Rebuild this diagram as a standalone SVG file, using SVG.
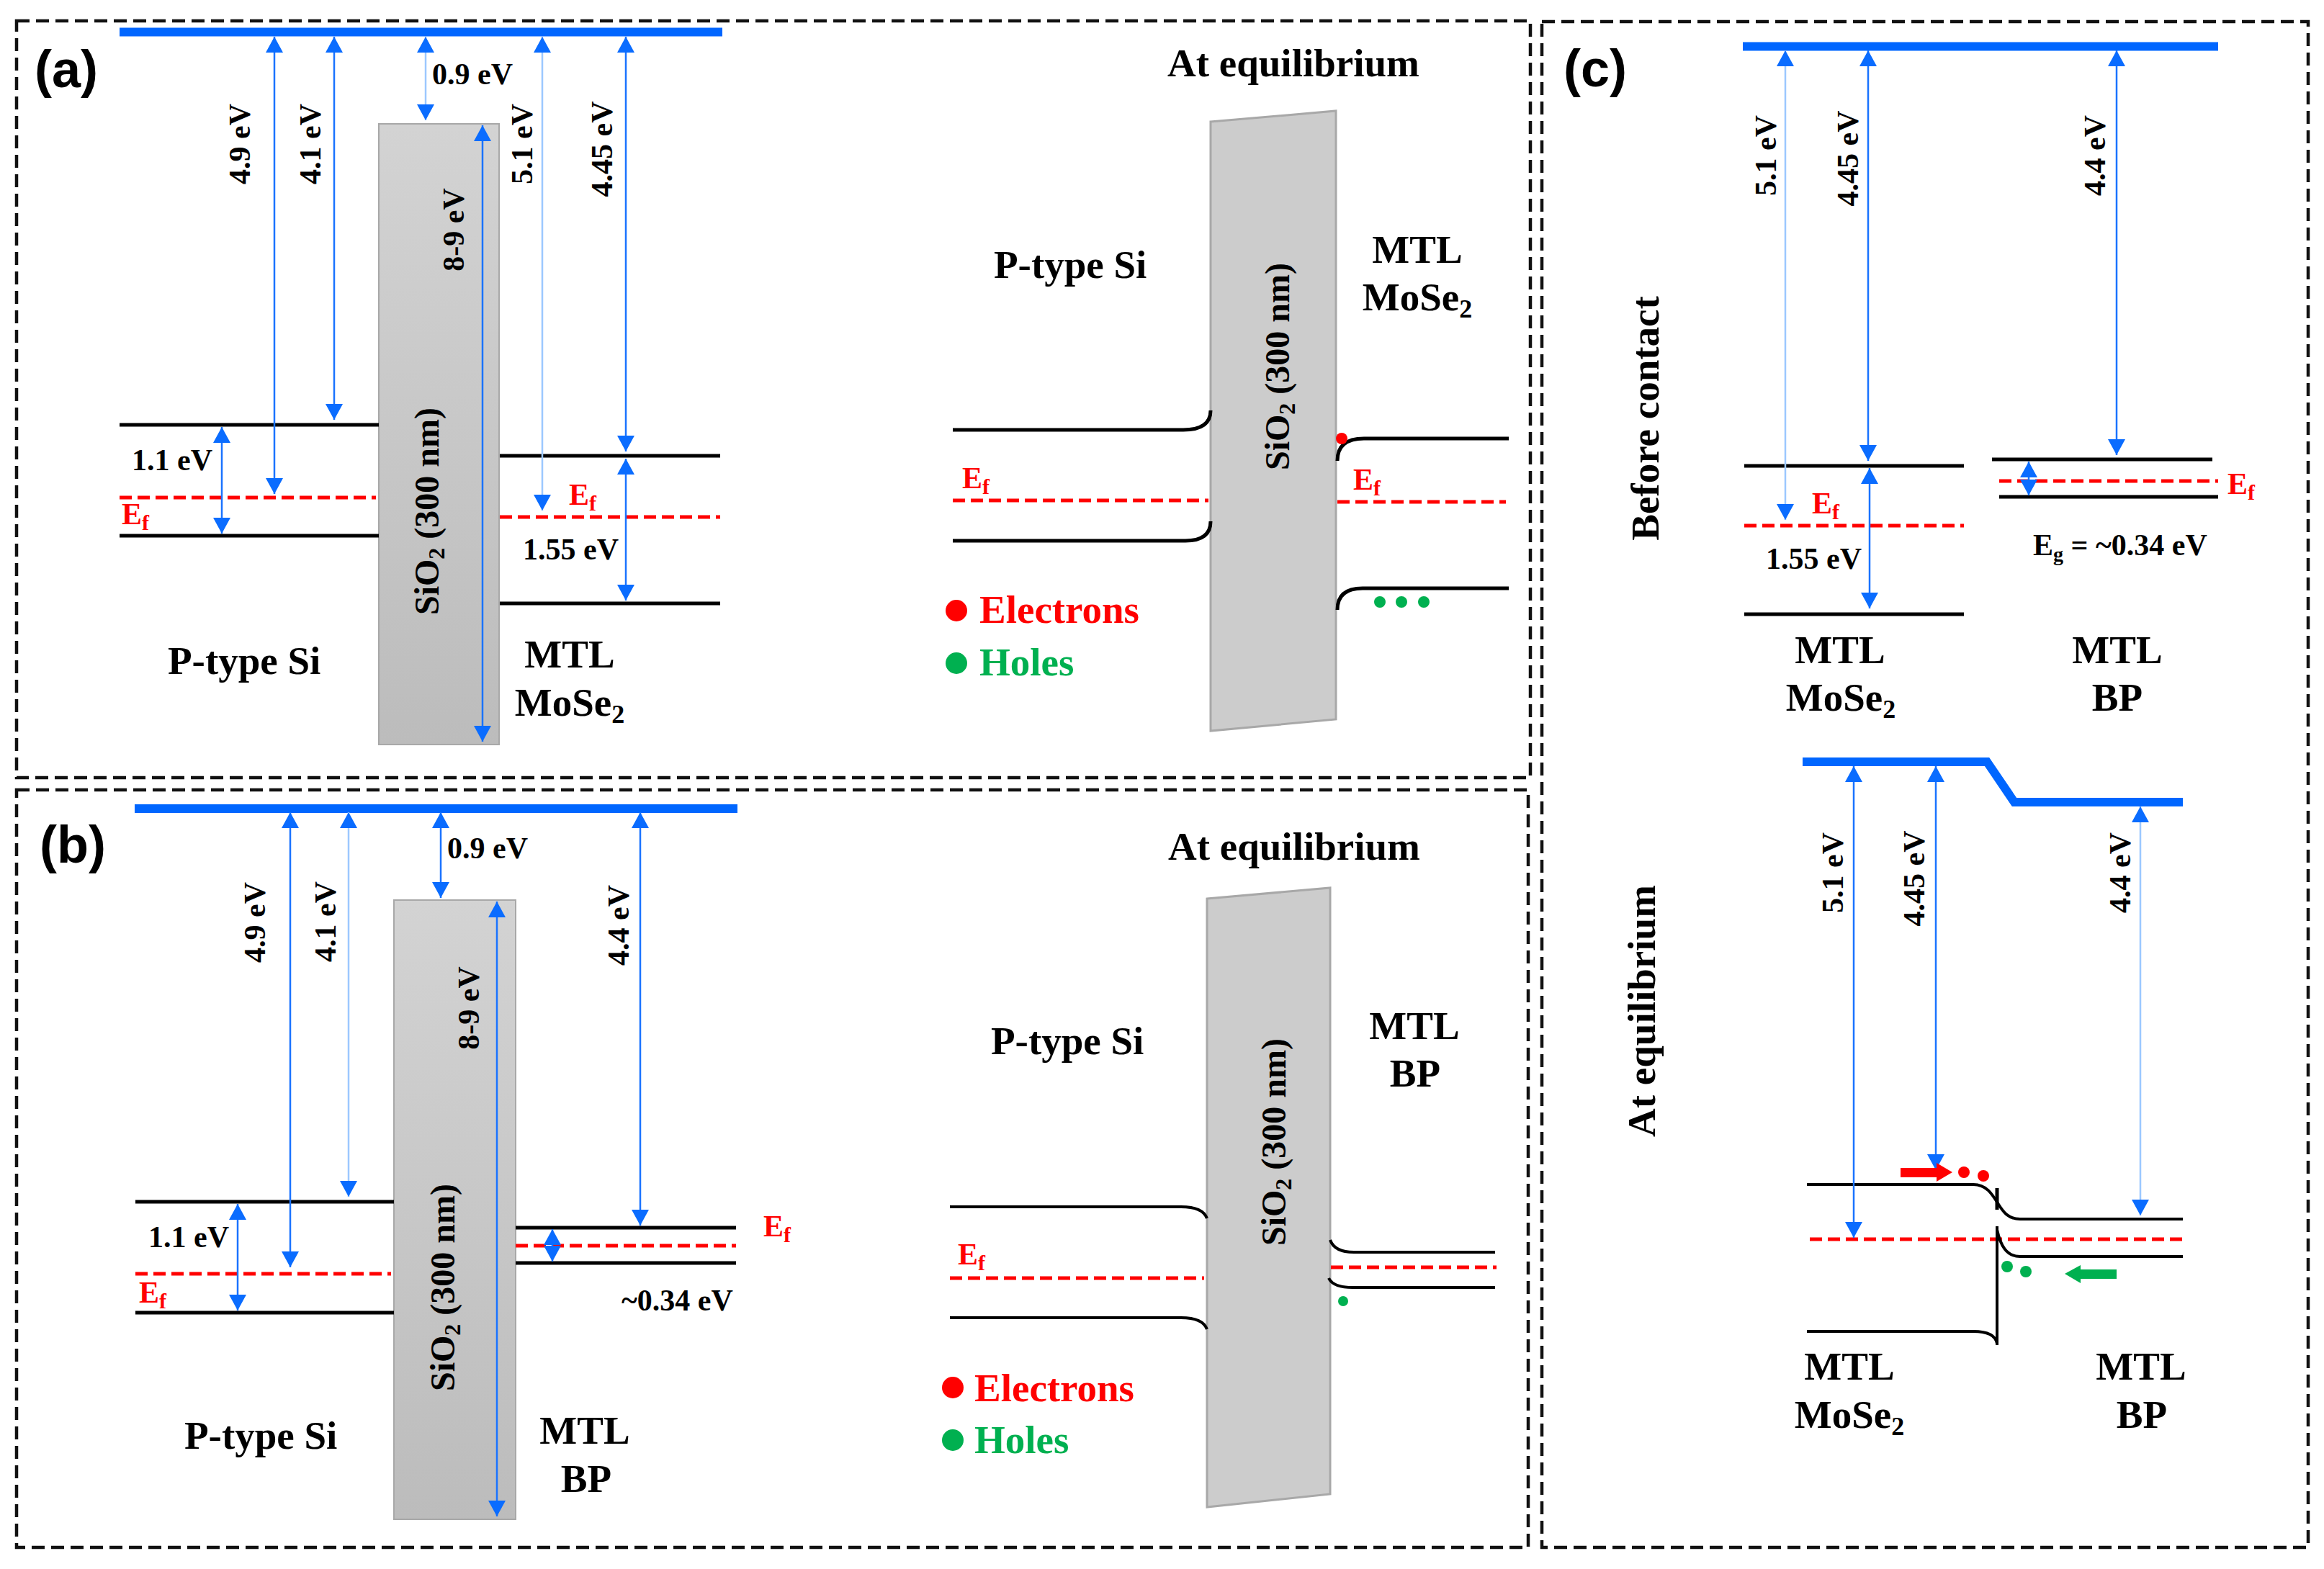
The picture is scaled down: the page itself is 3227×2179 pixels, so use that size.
<svg xmlns="http://www.w3.org/2000/svg" width="3227" height="2179" viewBox="0 0 3227 2179">
<style>
.t{font-family:"Liberation Serif","Times New Roman",serif;font-weight:bold;fill:#000}
.s{font-size:42px}
.b{font-size:55px}
.ef{fill:#ff0000;font-size:42px}
.red{fill:#ff0000}
.grn{fill:#00b050}
.pl{font-family:"Liberation Sans",Arial,sans-serif;font-weight:bold;font-size:72px;fill:#000}
.band{stroke:#000;stroke-width:5;fill:none}
.thin{stroke-width:4}
.fermi{stroke:#ff0000;stroke-width:5;stroke-dasharray:17 8;fill:none}
.arr{stroke:#1a73ff;stroke-width:2.5;fill:none;marker-start:url(#ah);marker-end:url(#ah)}
.lt{stroke:#9cc8ff}
.vac{stroke:#0066ff;stroke-width:12;fill:none}
.panel{fill:none;stroke:#111;stroke-width:4.5;stroke-dasharray:18 9}
.ox{fill:url(#g);stroke:#a8a8a8;stroke-width:2}
.oxp{fill:#cccccc;stroke:#a8a8a8;stroke-width:3}
</style>
<defs>
<linearGradient id="g" x1="0" y1="0" x2="0" y2="1">
<stop offset="0" stop-color="#d3d3d3"/>
<stop offset="1" stop-color="#bcbcbc"/>
</linearGradient>
<marker id="ah" viewBox="0 0 22 24" refX="22" refY="12" markerWidth="22" markerHeight="24" markerUnits="userSpaceOnUse" orient="auto-start-reverse">
<path d="M0,0L22,12L0,24z" fill="#0a6cff"/>
</marker>
</defs>
<rect width="3227" height="2179" fill="#fff"/>

<g id="panels">
<rect class="panel" x="23" y="29" width="2102" height="1051"/>
<rect class="panel" x="23" y="1097" width="2099" height="1052"/>
<rect class="panel" x="2141" y="30" width="1064" height="2119"/>
<text class="pl" x="48" y="121">(a)</text>
<text class="pl" x="55" y="1198">(b)</text>
<text class="pl" x="2171" y="120">(c)</text>
</g>

<!-- Panel (a) left -->
<g id="a-vacuum"><line class="vac" x1="166" y1="44.5" x2="1003" y2="44.5"/></g>
<g id="a-sio2"><rect class="ox" x="526" y="172" width="167" height="862"/>
<text class="t" font-size="48" transform="translate(609,710) rotate(-90)" text-anchor="middle">SiO<tspan font-size="32" dy="8">2</tspan><tspan dy="-8"> (300 nm)</tspan></text></g>
<g id="a-si">
<line class="band" x1="166" y1="590" x2="526" y2="590"/>
<line class="fermi" x1="166" y1="691" x2="522" y2="691"/>
<line class="band" x1="166" y1="744" x2="526" y2="744"/>
<text class="t s" x="183" y="653">1.1 eV</text>
<text class="t ef" x="169" y="728">E<tspan font-size="30" dy="8">f</tspan></text>
<text class="t b" x="233" y="936">P-type Si</text>
</g>
<g id="a-mose2">
<line class="band" x1="694" y1="633" x2="1000" y2="633"/>
<line class="fermi" x1="694" y1="718" x2="1000" y2="718"/>
<line class="band" x1="694" y1="838" x2="1000" y2="838"/>
<text class="t ef" x="790" y="701">E<tspan font-size="30" dy="8">f</tspan></text>
<text class="t s" x="726" y="777">1.55 eV</text>
<text class="t b" x="791" y="927" text-anchor="middle">MTL</text>
<text class="t b" x="791" y="994" text-anchor="middle">MoSe<tspan font-size="36" dy="10">2</tspan></text>
</g>
<g id="a-labels">
<text class="t s" x="600" y="117">0.9 eV</text>
<text class="t s" transform="translate(347,200) rotate(-90)" text-anchor="middle">4.9 eV</text>
<text class="t s" transform="translate(445,200) rotate(-90)" text-anchor="middle">4.1 eV</text>
<text class="t s" transform="translate(644,319) rotate(-90)" text-anchor="middle">8-9 eV</text>
<text class="t s" transform="translate(739,200) rotate(-90)" text-anchor="middle">5.1 eV</text>
<text class="t s" transform="translate(850,207) rotate(-90)" text-anchor="middle">4.45 eV</text>
</g>

<!-- Panel (a) right -->
<g id="a-eq">
<text class="t b" x="1621" y="106">At equilibrium</text>
<polygon class="oxp" points="1681,169 1855,154 1855,999 1681,1015"/>
<text class="t" font-size="48" transform="translate(1790,509) rotate(-90)" text-anchor="middle">SiO<tspan font-size="32" dy="8">2</tspan><tspan dy="-8"> (300 nm)</tspan></text>
<text class="t b" x="1380" y="386">P-type Si</text>
<text class="t b" x="1968" y="365" text-anchor="middle">MTL</text>
<text class="t b" x="1968" y="431" text-anchor="middle">MoSe<tspan font-size="36" dy="10">2</tspan></text>
<path class="band" d="M1323,597 L1643,597 Q1681,597 1681,570"/>
<line class="fermi" x1="1323" y1="695" x2="1678" y2="695"/>
<path class="band" d="M1323,751 L1646,751 Q1681,751 1681,724"/>
<text class="t ef" x="1336" y="678">E<tspan font-size="30" dy="8">f</tspan></text>
<path class="band" d="M1857,640 Q1857,609 1894,609 L2095,609"/>
<line class="fermi" x1="1857" y1="697" x2="2091" y2="697"/>
<path class="band" d="M1857,847 Q1857,817 1892,817 L2095,817"/>
<text class="t ef" x="1879" y="680">E<tspan font-size="30" dy="8">f</tspan></text>
<circle class="red" cx="1863" cy="609" r="8"/>
<circle class="grn" cx="1916" cy="836" r="8"/>
<circle class="grn" cx="1946" cy="836" r="8"/>
<circle class="grn" cx="1977" cy="836" r="8"/>
<circle class="red" cx="1328" cy="848" r="15"/>
<text class="t b red" x="1360" y="865">Electrons</text>
<circle class="grn" cx="1328" cy="921" r="15"/>
<text class="t b grn" x="1360" y="938">Holes</text>
</g>

<!-- Panel (b) left -->
<g id="b-vacuum"><line class="vac" x1="187" y1="1123" x2="1024" y2="1123" stroke-width="10"/></g>
<g id="b-sio2"><rect class="ox" x="547" y="1250" width="169" height="860"/>
<text class="t" font-size="48" transform="translate(631,1788) rotate(-90)" text-anchor="middle">SiO<tspan font-size="32" dy="8">2</tspan><tspan dy="-8"> (300 nm)</tspan></text></g>
<g id="b-si">
<line class="band" x1="188" y1="1669" x2="547" y2="1669"/>
<line class="fermi" x1="188" y1="1769" x2="543" y2="1769"/>
<line class="band" x1="188" y1="1823" x2="547" y2="1823"/>
<text class="t s" x="206" y="1732">1.1 eV</text>
<text class="t ef" x="193" y="1809">E<tspan font-size="30" dy="8">f</tspan></text>
<text class="t b" x="256" y="2012">P-type Si</text>
</g>
<g id="b-bp">
<line class="band" x1="716" y1="1705" x2="1022" y2="1705"/>
<line class="fermi" x1="716" y1="1730" x2="1022" y2="1730"/>
<line class="band" x1="716" y1="1754" x2="1022" y2="1754" stroke-width="6"/>
<text class="t ef" x="1060" y="1717">E<tspan font-size="30" dy="8">f</tspan></text>
<text class="t s" x="863" y="1820">~0.34 eV</text>
<text class="t b" x="812" y="2005" text-anchor="middle">MTL</text>
<text class="t b" x="814" y="2072" text-anchor="middle">BP</text>
</g>
<g id="b-labels">
<text class="t s" x="621" y="1192">0.9 eV</text>
<text class="t s" transform="translate(368,1281) rotate(-90)" text-anchor="middle">4.9 eV</text>
<text class="t s" transform="translate(466,1280) rotate(-90)" text-anchor="middle">4.1 eV</text>
<text class="t s" transform="translate(665,1400) rotate(-90)" text-anchor="middle">8-9 eV</text>
<text class="t s" transform="translate(873,1285) rotate(-90)" text-anchor="middle">4.4 eV</text>
</g>

<!-- Panel (b) right -->
<g id="b-eq">
<text class="t b" x="1622" y="1194">At equilibrium</text>
<polygon class="oxp" points="1676,1248 1847,1233 1847,2075 1676,2093"/>
<text class="t" font-size="48" transform="translate(1785,1586) rotate(-90)" text-anchor="middle">SiO<tspan font-size="32" dy="8">2</tspan><tspan dy="-8"> (300 nm)</tspan></text>
<text class="t b" x="1376" y="1464">P-type Si</text>
<text class="t b" x="1964" y="1443" text-anchor="middle">MTL</text>
<text class="t b" x="1965" y="1509" text-anchor="middle">BP</text>
<path class="band thin" d="M1319,1676 H1640 Q1670,1676 1676,1692"/>
<line class="fermi" stroke-width="4" x1="1319" y1="1775" x2="1672" y2="1775"/>
<path class="band thin" d="M1319,1830 H1640 Q1670,1830 1676,1846"/>
<text class="t ef" x="1330" y="1756">E<tspan font-size="30" dy="8">f</tspan></text>
<path class="band thin" d="M1847,1722 Q1853,1739 1880,1739 H2076"/>
<line class="fermi" stroke-width="4" x1="1848" y1="1760" x2="2078" y2="1760"/>
<path class="band thin" d="M1845,1775 Q1851,1788 1878,1788 H2076"/>
<circle class="grn" cx="1865" cy="1807" r="7"/>
<circle class="red" cx="1323" cy="1927" r="15"/>
<text class="t b red" x="1353" y="1946">Electrons</text>
<circle class="grn" cx="1323" cy="2000" r="15"/>
<text class="t b grn" x="1353" y="2018">Holes</text>
</g>

<!-- Panel (c) top -->
<g id="c-before">
<line class="vac" x1="2420" y1="64.5" x2="3080" y2="64.5" stroke-width="11"/>
<text class="t b" transform="translate(2303,581) rotate(-90)" text-anchor="middle">Before contact</text>
<line class="band" x1="2422" y1="647" x2="2727" y2="647"/>
<line class="fermi" stroke-width="4" x1="2422" y1="730" x2="2727" y2="730"/>
<line class="band" x1="2422" y1="853" x2="2727" y2="853"/>
<line class="band" x1="2766" y1="638" x2="3072" y2="638" stroke-width="4"/>
<line class="fermi" x1="2776" y1="668" x2="3080" y2="668"/>
<line class="band" x1="2776" y1="690" x2="3080" y2="690" stroke-width="6"/>
<text class="t ef" x="2516" y="713">E<tspan font-size="30" dy="8">f</tspan></text>
<text class="t ef" x="3093" y="686">E<tspan font-size="30" dy="8">f</tspan></text>
<text class="t s" x="2452" y="790">1.55 eV</text>
<text class="t s" x="2823" y="771">E<tspan font-size="28" dy="8">g</tspan><tspan dy="-8"> = ~0.34 eV</tspan></text>
<text class="t s" transform="translate(2466,216) rotate(-90)" text-anchor="middle">5.1 eV</text>
<text class="t s" transform="translate(2580,220) rotate(-90)" text-anchor="middle">4.45 eV</text>
<text class="t s" transform="translate(2923,216) rotate(-90)" text-anchor="middle">4.4 eV</text>
<text class="t b" x="2555" y="921" text-anchor="middle">MTL</text>
<text class="t b" x="2556" y="987" text-anchor="middle">MoSe<tspan font-size="36" dy="10">2</tspan></text>
<text class="t b" x="2940" y="921" text-anchor="middle">MTL</text>
<text class="t b" x="2940" y="987" text-anchor="middle">BP</text>
</g>

<!-- Panel (c) bottom -->
<g id="c-eq">
<polyline class="vac" stroke-width="11" points="2503,1058 2759,1058 2797,1114 3031,1114"/>
<text class="t b" transform="translate(2298,1404) rotate(-90)" text-anchor="middle">At equilibrium</text>
<path class="band thin" d="M2509,1645 H2740 C2758,1645 2766,1658 2774,1671 C2782,1684 2789,1693 2805,1693 H3031"/>
<line class="band" x1="2773" y1="1650" x2="2773" y2="1680" stroke-width="6"/>
<line class="fermi" x1="2513" y1="1721" x2="3031" y2="1721"/>
<path class="band thin" d="M2773,1708 C2778,1730 2786,1745 2805,1745 H3031"/>
<line class="band thin" x1="2773" y1="1703" x2="2773" y2="1868"/>
<path class="band thin" d="M2509,1849 H2740 Q2770,1849 2773,1866"/>
<text class="t s" transform="translate(2559,1212) rotate(-90)" text-anchor="middle">5.1 eV</text>
<text class="t s" transform="translate(2672,1220) rotate(-90)" text-anchor="middle">4.45 eV</text>
<text class="t s" transform="translate(2958,1212) rotate(-90)" text-anchor="middle">4.4 eV</text>
<text class="t b" x="2568" y="1916" text-anchor="middle">MTL</text>
<text class="t b" x="2568" y="1983" text-anchor="middle">MoSe<tspan font-size="36" dy="10">2</tspan></text>
<text class="t b" x="2973" y="1916" text-anchor="middle">MTL</text>
<text class="t b" x="2974" y="1983" text-anchor="middle">BP</text>
</g>

<g id="connectors">
<!-- (a) -->
<line class="arr" x1="381" y1="51" x2="381" y2="686"/>
<line class="arr" x1="464" y1="51" x2="464" y2="583"/>
<line class="arr lt" x1="591" y1="51" x2="591" y2="167"/>
<line class="arr" x1="670" y1="174" x2="670" y2="1030"/>
<line class="arr lt" x1="753" y1="51" x2="753" y2="709"/>
<line class="arr" x1="869" y1="51" x2="869" y2="627"/>
<line class="arr" x1="869" y1="637" x2="869" y2="834"/>
<line class="arr" x1="308" y1="593" x2="308" y2="741"/>
<!-- (b) -->
<line class="arr" x1="403" y1="1128" x2="403" y2="1760"/>
<line class="arr lt" x1="484" y1="1128" x2="484" y2="1662"/>
<line class="arr" x1="612" y1="1128" x2="612" y2="1247"/>
<line class="arr" x1="690" y1="1252" x2="690" y2="2106"/>
<line class="arr" x1="889" y1="1128" x2="889" y2="1702"/>
<line class="arr" x1="330" y1="1672" x2="330" y2="1820"/>
<line class="arr" x1="767" y1="1707" x2="767" y2="1752"/>
<!-- (c) top -->
<line class="arr lt" x1="2479" y1="70" x2="2479" y2="722"/>
<line class="arr" x1="2594" y1="70" x2="2594" y2="640"/>
<line class="arr" x1="2596" y1="650" x2="2596" y2="845"/>
<line class="arr" x1="2939" y1="70" x2="2939" y2="632"/>
<line class="arr" x1="2817" y1="641" x2="2817" y2="688"/>
<!-- (c) bottom -->
<line class="arr" x1="2574" y1="1064" x2="2574" y2="1719"/>
<line class="arr" x1="2688" y1="1064" x2="2688" y2="1625"/>
<line class="arr lt" x1="2972" y1="1120" x2="2972" y2="1688"/>
<!-- carrier flow arrows -->
<path class="red" d="M2639,1622 H2689 V1615 L2711,1628 L2689,1641 V1635 H2639 Z"/>
<circle class="red" cx="2727" cy="1628" r="8"/>
<circle class="red" cx="2754" cy="1633" r="8"/>
<circle class="grn" cx="2787" cy="1759" r="8"/>
<circle class="grn" cx="2813" cy="1766" r="8"/>
<path class="grn" d="M2939,1763 H2889 V1757 L2867,1769 L2889,1782 V1776 H2939 Z"/>
</g>
</svg>
